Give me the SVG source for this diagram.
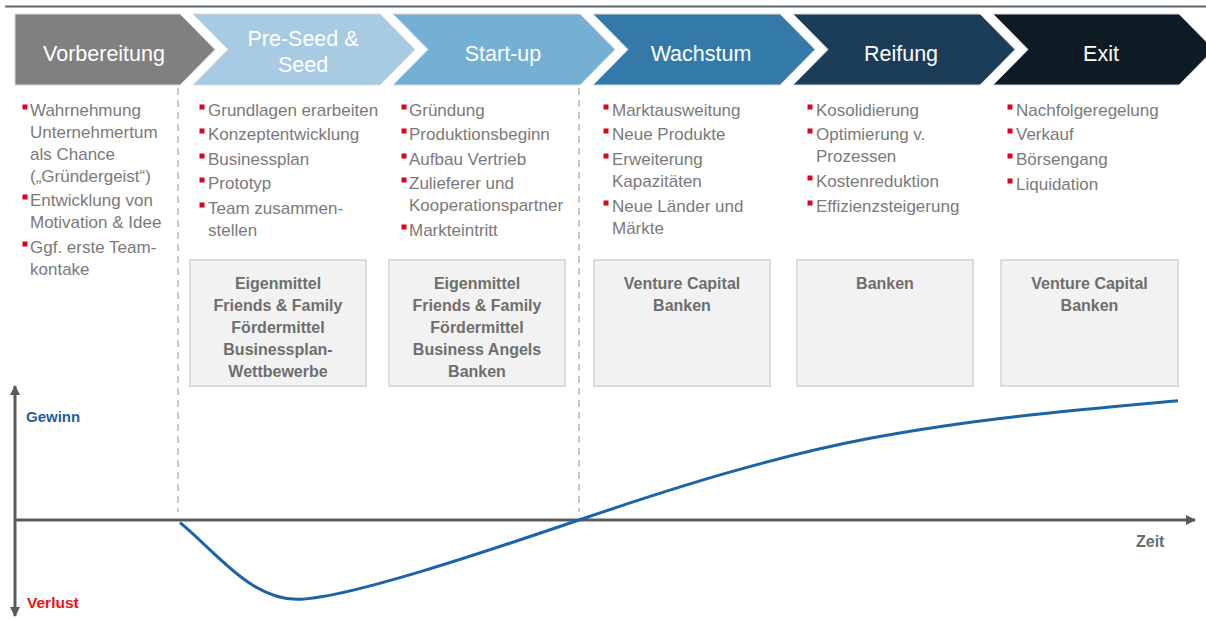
<svg xmlns="http://www.w3.org/2000/svg" width="1206" height="619" viewBox="0 0 1206 619">
  <style>
    .phase { stroke: #d9d9d9; stroke-width: 1; }
    .phase-label { font-family: "Liberation Sans", Arial, sans-serif; font-size: 21.5px; fill: #ffffff; text-anchor: middle; }
    .item { font-family: "Liberation Sans", Arial, sans-serif; font-size: 17px; fill: #7a7a7a; }
    .bullet { fill: #e2001a; }
    .fund { fill: #f2f2f2; stroke: #dcdcdc; stroke-width: 2; }
    .fund-text { font-family: "Liberation Sans", Arial, sans-serif; font-size: 16px; font-weight: bold; fill: #6e6e6e; text-anchor: middle; }
    .divider { stroke: #c8c8c8; stroke-width: 2; stroke-dasharray: 7 5; fill: none; }
    .axis { stroke: #5a5a5a; stroke-width: 3; fill: none; }
    .curve { stroke: #1b64a5; stroke-width: 3; fill: none; }
    .axis-label { font-family: "Liberation Sans", Arial, sans-serif; font-weight: bold; }
  </style>
  <defs>
    <marker id="arrow" viewBox="0 0 10 10" refX="9" refY="5" markerWidth="10" markerHeight="10" markerUnits="userSpaceOnUse" orient="auto-start-reverse">
      <path d="M0,0 L10,5 L0,10 Z" fill="#5a5a5a"/>
    </marker>
  </defs>

  <rect width="1206" height="619" fill="#ffffff"/>

  <!-- header rule -->
  <line x1="5" y1="6.5" x2="1206" y2="6.5" stroke="#5d6a74" stroke-width="2"/>

  <!-- phase chevrons -->
  <g id="phase-vorbereitung">
    <path class="phase" d="M15,14 H180 L215,49.5 L180,85 H15 Z" fill="#808080"/>
    <text class="phase-label" x="104" y="61">Vorbereitung</text>
  </g>
  <g id="phase-preseed">
    <path class="phase" d="M193,14 H380 L415,49.5 L380,85 H193 L228,49.5 Z" fill="#a6cbe3"/>
    <text class="phase-label" x="303" y="46">Pre-Seed &amp;</text>
    <text class="phase-label" x="303" y="72">Seed</text>
  </g>
  <g id="phase-startup">
    <path class="phase" d="M393,14 H580 L615,49.5 L580,85 H393 L428,49.5 Z" fill="#74afd4"/>
    <text class="phase-label" x="503" y="61">Start-up</text>
  </g>
  <g id="phase-wachstum">
    <path class="phase" d="M593,14 H780 L815,49.5 L780,85 H593 L628,49.5 Z" fill="#337aab"/>
    <text class="phase-label" x="701" y="61">Wachstum</text>
  </g>
  <g id="phase-reifung">
    <path class="phase" d="M793,14 H980 L1015,49.5 L980,85 H793 L828,49.5 Z" fill="#1b3d58"/>
    <text class="phase-label" x="901" y="61">Reifung</text>
  </g>
  <g id="phase-exit">
    <path class="phase" d="M993,14 H1179 L1214,49.5 L1179,85 H993 L1028,49.5 Z" fill="#0e1b24"/>
    <text class="phase-label" x="1101" y="61">Exit</text>
  </g>

  <!-- phase dividers -->
  <g id="dividers">
    <line class="divider" x1="178" y1="88" x2="178" y2="512"/>
    <line class="divider" x1="579" y1="88" x2="579" y2="512"/>
  </g>

  <!-- activities per phase -->
  <g id="activities-vorbereitung">
    <rect class="bullet" x="22.5" y="104.5" width="5" height="5"/>
    <rect class="bullet" x="22.5" y="194.5" width="5" height="5"/>
    <rect class="bullet" x="22.5" y="241.5" width="5" height="5"/>
    <text class="item" x="30" y="116">Wahrnehmung</text>
    <text class="item" x="30" y="138">Unternehmertum</text>
    <text class="item" x="30" y="160">als Chance</text>
    <text class="item" x="30" y="182">(„Gründergeist“)</text>
    <text class="item" x="30" y="206">Entwicklung von</text>
    <text class="item" x="30" y="228">Motivation &amp; Idee</text>
    <text class="item" x="30" y="253">Ggf. erste Team-</text>
    <text class="item" x="30" y="275">kontake</text>
  </g>
  <g id="activities-preseed">
    <rect class="bullet" x="199.5" y="104.5" width="5" height="5"/>
    <rect class="bullet" x="199.5" y="128.5" width="5" height="5"/>
    <rect class="bullet" x="199.5" y="153.5" width="5" height="5"/>
    <rect class="bullet" x="199.5" y="177.5" width="5" height="5"/>
    <rect class="bullet" x="199.5" y="202.5" width="5" height="5"/>
    <text class="item" x="208" y="116">Grundlagen erarbeiten</text>
    <text class="item" x="208" y="140">Konzeptentwicklung</text>
    <text class="item" x="208" y="165">Businessplan</text>
    <text class="item" x="208" y="189">Prototyp</text>
    <text class="item" x="208" y="214">Team zusammen-</text>
    <text class="item" x="208" y="236">stellen</text>
  </g>
  <g id="activities-startup">
    <rect class="bullet" x="401.5" y="104.5" width="5" height="5"/>
    <rect class="bullet" x="401.5" y="128.5" width="5" height="5"/>
    <rect class="bullet" x="401.5" y="153.5" width="5" height="5"/>
    <rect class="bullet" x="401.5" y="177.5" width="5" height="5"/>
    <rect class="bullet" x="401.5" y="224.5" width="5" height="5"/>
    <text class="item" x="409" y="116">Gründung</text>
    <text class="item" x="409" y="140">Produktionsbeginn</text>
    <text class="item" x="409" y="165">Aufbau Vertrieb</text>
    <text class="item" x="409" y="189">Zulieferer und</text>
    <text class="item" x="409" y="211">Kooperationspartner</text>
    <text class="item" x="409" y="236">Markteintritt</text>
  </g>
  <g id="activities-wachstum">
    <rect class="bullet" x="603.5" y="104.5" width="5" height="5"/>
    <rect class="bullet" x="603.5" y="128.5" width="5" height="5"/>
    <rect class="bullet" x="603.5" y="153.5" width="5" height="5"/>
    <rect class="bullet" x="603.5" y="200.5" width="5" height="5"/>
    <text class="item" x="612" y="116">Marktausweitung</text>
    <text class="item" x="612" y="140">Neue Produkte</text>
    <text class="item" x="612" y="165">Erweiterung</text>
    <text class="item" x="612" y="187">Kapazitäten</text>
    <text class="item" x="612" y="212">Neue Länder und</text>
    <text class="item" x="612" y="234">Märkte</text>
  </g>
  <g id="activities-reifung">
    <rect class="bullet" x="807.5" y="104.5" width="5" height="5"/>
    <rect class="bullet" x="807.5" y="128.5" width="5" height="5"/>
    <rect class="bullet" x="807.5" y="175.5" width="5" height="5"/>
    <rect class="bullet" x="807.5" y="200.5" width="5" height="5"/>
    <text class="item" x="816" y="116">Kosolidierung</text>
    <text class="item" x="816" y="140">Optimierung v.</text>
    <text class="item" x="816" y="162">Prozessen</text>
    <text class="item" x="816" y="187">Kostenreduktion</text>
    <text class="item" x="816" y="212">Effizienzsteigerung</text>
  </g>
  <g id="activities-exit">
    <rect class="bullet" x="1007.5" y="104.5" width="5" height="5"/>
    <rect class="bullet" x="1007.5" y="128.5" width="5" height="5"/>
    <rect class="bullet" x="1007.5" y="153.5" width="5" height="5"/>
    <rect class="bullet" x="1007.5" y="178.5" width="5" height="5"/>
    <text class="item" x="1016" y="116">Nachfolgeregelung</text>
    <text class="item" x="1016" y="140">Verkauf</text>
    <text class="item" x="1016" y="165">Börsengang</text>
    <text class="item" x="1016" y="190">Liquidation</text>
  </g>

  <!-- funding sources per phase -->
  <g id="funding-preseed">
    <rect class="fund" x="190" y="260" width="176" height="126"/>
    <text class="fund-text" x="278" y="289">Eigenmittel</text>
    <text class="fund-text" x="278" y="311">Friends &amp; Family</text>
    <text class="fund-text" x="278" y="333">Fördermittel</text>
    <text class="fund-text" x="278" y="355">Businessplan-</text>
    <text class="fund-text" x="278" y="377">Wettbewerbe</text>
  </g>
  <g id="funding-startup">
    <rect class="fund" x="389" y="260" width="176" height="126"/>
    <text class="fund-text" x="477" y="289">Eigenmittel</text>
    <text class="fund-text" x="477" y="311">Friends &amp; Family</text>
    <text class="fund-text" x="477" y="333">Fördermittel</text>
    <text class="fund-text" x="477" y="355">Business Angels</text>
    <text class="fund-text" x="477" y="377">Banken</text>
  </g>
  <g id="funding-wachstum">
    <rect class="fund" x="594" y="260" width="176" height="126"/>
    <text class="fund-text" x="682" y="289">Venture Capital</text>
    <text class="fund-text" x="682" y="311">Banken</text>
  </g>
  <g id="funding-reifung">
    <rect class="fund" x="797" y="260" width="176" height="126"/>
    <text class="fund-text" x="885" y="289">Banken</text>
  </g>
  <g id="funding-exit">
    <rect class="fund" x="1001" y="260" width="177" height="126"/>
    <text class="fund-text" x="1089.5" y="289">Venture Capital</text>
    <text class="fund-text" x="1089.5" y="311">Banken</text>
  </g>

  <!-- profit chart -->
  <g id="connectors">
    <line class="axis" x1="15" y1="616" x2="15" y2="386" marker-start="url(#arrow)" marker-end="url(#arrow)"/>
    <line class="axis" x1="14" y1="520" x2="1195" y2="520" marker-end="url(#arrow)"/>
    <path class="curve" d="M180,522.7 C215,551 250,599.3 297,599.3 C345,599.3 489,550.6 579,520 C676,487 773,456.7 870,438.3 C973,418.7 1075,410 1178,400.7"/>
  </g>
  <g id="axis-labels">
    <text class="axis-label" x="26" y="422" font-size="15" fill="#1f5ea0">Gewinn</text>
    <text class="axis-label" x="27" y="608" font-size="15.5" fill="#f01010">Verlust</text>
    <text class="axis-label" x="1136" y="547" font-size="16" fill="#6b6b6b">Zeit</text>
  </g>
</svg>
